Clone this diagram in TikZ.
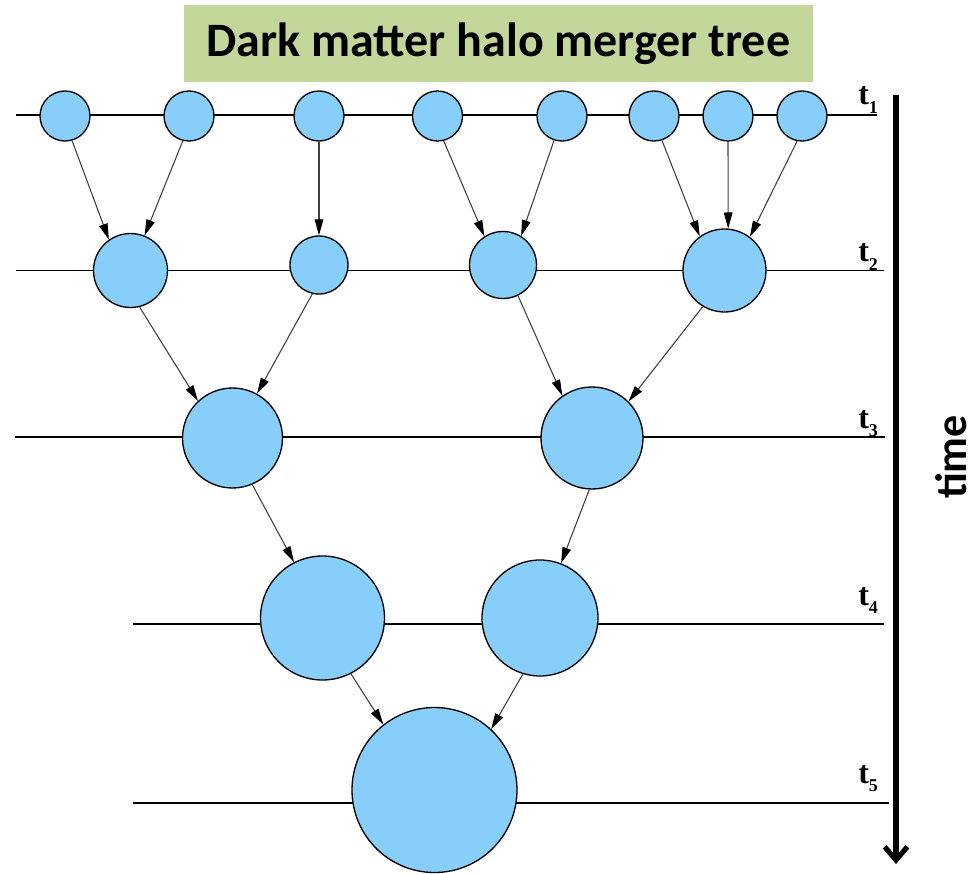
\documentclass[tikz,border=0pt]{standalone}
\usepackage{fontspec}
\setmainfont{Liberation Serif}
\newfontfamily\titlefont{Carlito}
\usetikzlibrary{arrows.meta}
\definecolor{halofill}{HTML}{87CEFA}
\definecolor{titlegreen}{HTML}{C4D79B}
\newcommand{\tlab}[1]{{\bfseries\fontsize{24}{24}\selectfont t\raisebox{-0.25em}{\fontsize{13.5}{13.5}\selectfont #1}}}
\begin{document}
\begin{tikzpicture}[x=0.75pt,y=-0.75pt,
  halo/.style={circle,draw=black,fill=halofill,line width=1pt,minimum size=#1*1.5pt,inner sep=0pt},
  epoch/.style={draw=black,line width=1pt},
  merge/.style={draw=black!75,line width=0.8pt,-{Triangle[length=12pt,width=6.5pt,color=black]}},
  tlabel/.style={anchor=base west,inner sep=0pt},
  timearrow/.style={line width=3.8pt,-{Straight Barb[length=10pt,width=17pt]}}
]
\fill[white] (0,0) rectangle (976,874);
\useasboundingbox (0,0) rectangle (976,874);

% title
\node[fill=titlegreen,minimum width=629*0.75pt,minimum height=77*0.75pt,inner sep=0pt,
      font=\titlefont\bfseries\fontsize{36}{36}\selectfont] (title) at (498.5,43.5) {Dark matter halo merger tree};

% epoch lines
\coordinate (l1a) at (16,115);  \coordinate (l1b) at (877,115);
\coordinate (l2a) at (16,270.5);\coordinate (l2b) at (884,270.5);
\coordinate (l3a) at (15,437);  \coordinate (l3b) at (885,437);
\coordinate (l4a) at (133,624); \coordinate (l4b) at (884,624);
\coordinate (l5a) at (133,803); \coordinate (l5b) at (889,803);
\draw[epoch] (l1a) -- (l1b);
\draw[epoch] (l2a) -- (l2b);
\draw[epoch] (l3a) -- (l3b);
\draw[epoch] (l4a) -- (l4b);
\draw[epoch] (l5a) -- (l5b);

% labels
\node[tlabel] (t1) at (858,105) {\tlab{1}};
\node[tlabel] (t2) at (858,262) {\tlab{2}};
\node[tlabel] (t3) at (858,428) {\tlab{3}};
\node[tlabel] (t4) at (858,605) {\tlab{4}};
\node[tlabel] (t5) at (858,783) {\tlab{5}};

% halos t1
\node[halo=25] (c1) at (65,116) {};
\node[halo=25] (c2) at (189,116) {};
\node[halo=25] (c3) at (319,116) {};
\node[halo=25] (c4) at (437.5,116) {};
\node[halo=25] (c5) at (562,116) {};
\node[halo=25] (c6) at (654,116) {};
\node[halo=25] (c7) at (728,116) {};
\node[halo=25] (c8) at (802,116) {};
% halos t2
\node[halo=37] (p1) at (130.5,270.5) {};
\node[halo=29] (p2) at (319,265) {};
\node[halo=33.5] (p3) at (503,265) {};
\node[halo=41.5] (p4) at (724.5,270.5) {};
% halos t3
\node[halo=50] (q1) at (232.5,438) {};
\node[halo=51] (q2) at (592,438) {};
% halos t4
\node[halo=62] (r1) at (322.5,618) {};
\node[halo=58] (r2) at (540,618) {};
% halo t5
\node[halo=82.5] (s) at (434.5,790) {};

% mergers t1 -> t2
\draw[merge] (c1.-74) -- (p1.125);
\draw[merge] (c2.-104) -- (p1.68);
\draw[merge] (c3.-90) -- (p2.90);
\draw[merge] (c4.-76) -- (p3.123);
\draw[merge] (c5.-108) -- (p3.58);
\draw[merge] (c6.-72) -- (p4.126);
\draw[merge] (c7.-90) -- (p4.85);
\draw[merge] (c8.-101) -- (p4.53);
% t2 -> t3
\draw[merge] (p1.-76) -- (q1.133);
\draw[merge] (p2.-103) -- (q1.61);
\draw[merge] (p3.-64) -- (q2.125);
\draw[merge] (p4.-121) -- (q2.45);
% t3 -> t4
\draw[merge] (q1.-67) -- (r1.117);
\draw[merge] (q2.-93) -- (r2.69);
% t4 -> t5
\draw[merge] (r1.-63) -- (s.128);
\draw[merge] (r2.-107) -- (s.47);

% time arrow
\coordinate (timetop) at (896,95);
\coordinate (timebot) at (896,864);
\draw[timearrow] (timetop) -- (timebot);
\node[rotate=90,font=\titlefont\bfseries\fontsize{33}{33}\selectfont,inner sep=0pt] (timelabel) at (951,457) {time};
\end{tikzpicture}
\end{document}
